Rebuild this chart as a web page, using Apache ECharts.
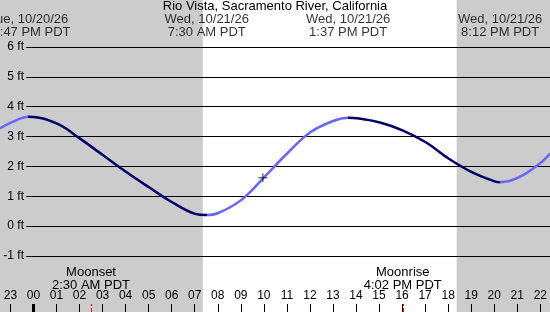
<!DOCTYPE html>
<html>
<head>
<meta charset="utf-8">
<script src="https://cdn.jsdelivr.net/npm/echarts@6/dist/echarts.min.js"></script>
<style>
  html, body { margin: 0; padding: 0; background: #fff; }
  #chart { width: 550px; height: 312px; }
</style>
</head>
<body>
<div id="chart"></div>
<script>
//////////DATA (hours from midnight Wed 10/21/26, feet)
var tideHours = [-1.45, -1, -0.2, 1, 2, 3, 4, 5, 6, 7, 7.45, 8, 9, 10, 11, 12, 13, 13.62, 14, 15, 16, 17, 18, 19, 20, 20.2, 21, 22, 22.36];
var tideFeet  = [3.27, 3.46, 3.66, 3.44, 2.94, 2.38, 1.82, 1.3, 0.8, 0.41, 0.37, 0.44, 0.88, 1.65, 2.45, 3.15, 3.53, 3.63, 3.61, 3.47, 3.2, 2.8, 2.25, 1.8, 1.49, 1.47, 1.63, 2.15, 2.43];

var extremeHours  = [-0.22, 7.5, 13.62, 20.2];
var extremeLabels = ['Tue, 10/20/26\n11:47 PM PDT', 'Wed, 10/21/26\n7:30 AM PDT', 'Wed, 10/21/26\n1:37 PM PDT', 'Wed, 10/21/26\n8:12 PM PDT'];

var nightRanges = [[-1.45, 7.33], [18.32, 22.36]];

var moonHours  = [2.5, 16.03];
var moonLabels = ['Moonset\n2:30 AM PDT', 'Moonrise\n4:02 PM PDT'];

var nowPoint = [9.93, 1.62];

var hourMin = -1, hourMax = 22;
var feetMin = -1, feetMax = 6;

var title = 'Rio Vista, Sacramento River, California';
//////////

var DARK = '#000066';
var LIGHT = '#6666ff';
var FONT = 'Liberation Sans, Arial, sans-serif';

//////////Escala horizontal: 23.1 px por hora, medianoche en x=33.5
var PX_HOUR = 23.1, X0 = 33.5, W = 550;
var viewMin = -X0 / PX_HOUR;
var viewMax = (W - X0) / PX_HOUR;
var plotLeft = 26;
var plotMin = (plotLeft - X0) / PX_HOUR;
var plotTop = 47, plotBottom = 56;

var tideData = tideHours.map(function (h, i) { return [h, tideFeet[i]]; });

//colores: bajando oscuro, subiendo claro
var pieces = [];
var edges = [-Infinity].concat(extremeHours).concat([Infinity]);
for (var i = 0; i < edges.length - 1; i++) {
    var p = { color: i % 2 === 0 ? LIGHT : DARK };
    if (edges[i] !== -Infinity) p.gte = edges[i];
    if (edges[i + 1] !== Infinity) p.lt = edges[i + 1];
    pieces.push(p);
}

function pad2(v) {
    var h = ((Math.round(v) % 24) + 24) % 24;
    return (h < 10 ? '0' : '') + h;
}

var moonLines = moonHours.map(function (h, i) {
    return [
        { coord: [h, 0], lineStyle: { color: '#ff0000', width: 1 },
          label: { show: true, position: 'end', distance: 12, formatter: moonLabels[i],
                   color: '#000', fontSize: 13, lineHeight: 13, fontFamily: FONT } },
        { coord: [h, 1] }
    ];
});
moonLines.push([
    { coord: [0, 0], lineStyle: { color: '#000', width: 3 }, label: { show: false } },
    { coord: [0, 1] }
]);

var chart = echarts.init(document.getElementById('chart'));
chart.setOption({
    animation: false,
    backgroundColor: '#fff',
    title: {
        text: title, left: 'center', top: 0, padding: [0, 0, 0, 0],
        textStyle: { fontSize: 13, fontWeight: 'normal', color: '#000', fontFamily: FONT }
    },
    grid: [
        { left: 0, right: 0, top: 0, bottom: 0 },
        { left: plotLeft, right: 0, top: plotTop, bottom: plotBottom },
        { left: X0 + hourMin * PX_HOUR, right: W - (X0 + hourMax * PX_HOUR), top: 304, bottom: 0 },
        { left: 0, right: 0, top: plotTop, bottom: plotBottom }
    ],
    xAxis: [
        { gridIndex: 0, type: 'value', min: viewMin, max: viewMax, show: false },
        { gridIndex: 1, type: 'value', min: plotMin, max: viewMax, show: false },
        { gridIndex: 2, type: 'value', min: hourMin, max: hourMax, interval: 1, z: 10,
          axisLine: { show: false }, splitLine: { show: false },
          axisTick: { inside: true, length: 8, lineStyle: { color: '#000', width: 1 } },
          axisLabel: { inside: true, margin: 10, color: '#000', fontSize: 12, fontFamily: FONT,
                       showMinLabel: true, showMaxLabel: true, formatter: pad2 } },
        { gridIndex: 3, type: 'value', min: viewMin, max: viewMax, show: false }
    ],
    yAxis: [
        { gridIndex: 0, type: 'value', min: 0, max: 1, show: false },
        { gridIndex: 1, type: 'value', min: feetMin, max: feetMax, interval: 1, z: 10,
          axisLine: { show: false }, axisTick: { show: false },
          splitLine: { lineStyle: { color: '#000', width: 1 } },
          axisLabel: { margin: 2, color: '#000', fontSize: 12, fontFamily: FONT, formatter: '{value} ft' } },
        { gridIndex: 2, type: 'value', min: 0, max: 1, show: false },
        { gridIndex: 3, type: 'value', min: feetMin, max: feetMax, show: false }
    ],
    visualMap: {
        type: 'piecewise', show: false, dimension: 0, seriesIndex: 2, pieces: pieces
    },
    series: [
        //////////noche
        { type: 'scatter', xAxisIndex: 0, yAxisIndex: 0, data: [], z: -5, silent: true,
          markArea: { silent: true, z: -10, itemStyle: { color: '#cccccc' },
              data: nightRanges.map(function (r) { return [{ xAxis: r[0] }, { xAxis: r[1] }]; }) } },
        //////////horas de pleamar / bajamar
        { type: 'scatter', xAxisIndex: 0, yAxisIndex: 0, symbolSize: 0, clip: false, silent: true,
          data: extremeHours.map(function (h) { return [h, 1]; }),
          label: { show: true, position: 'bottom', distance: 12.5, color: '#000', fontSize: 13,
                   lineHeight: 13, fontFamily: FONT, align: 'center',
                   formatter: function (p) { return extremeLabels[p.dataIndex]; } } },
        //////////marea
        { type: 'line', xAxisIndex: 3, yAxisIndex: 3, data: tideData, smooth: 0.4,
          showSymbol: false, lineStyle: { width: 2.5 }, z: 20 },
        //////////ahora
        { type: 'scatter', xAxisIndex: 3, yAxisIndex: 3, data: [nowPoint], z: 21,
          symbol: 'path://M0,5L10,5M5,0L5,10', symbolSize: 9,
          itemStyle: { color: 'transparent', borderColor: '#000', borderWidth: 1 } },
        //////////luna y medianoche
        { type: 'line', xAxisIndex: 2, yAxisIndex: 2, data: [], silent: true, z: 15,
          markLine: { symbol: 'none', silent: true, animation: false, z: 15, data: moonLines } }
    ]
});
</script>
</body>
</html>
